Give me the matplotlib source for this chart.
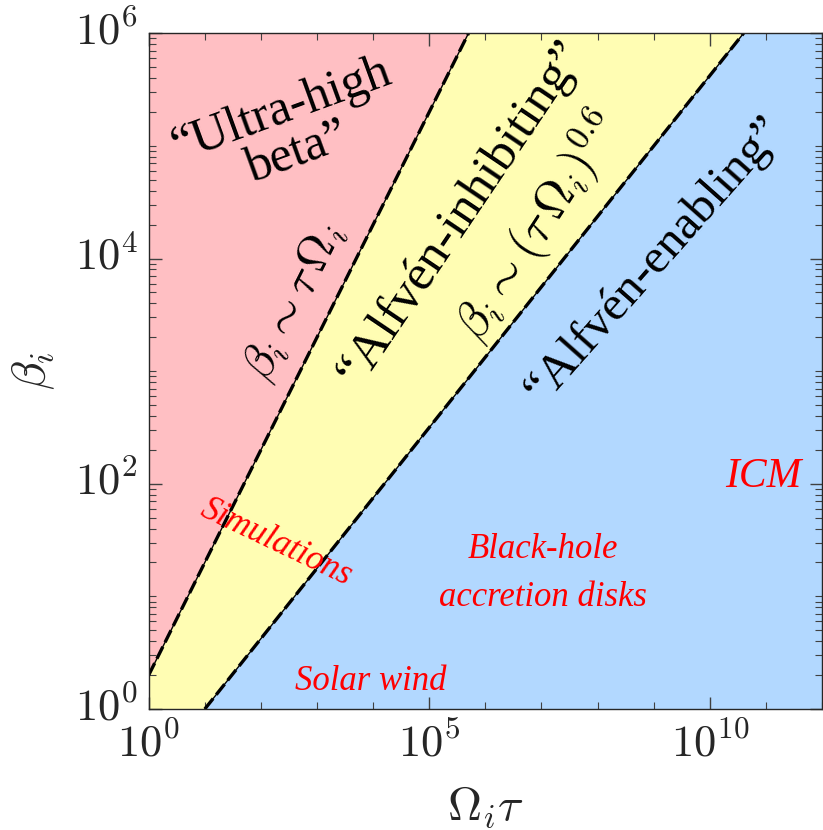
import numpy as np
import matplotlib
matplotlib.use("Agg")
import matplotlib.pyplot as plt
from matplotlib.ticker import LogLocator, NullFormatter, FixedLocator
from matplotlib.transforms import ScaledTranslation

plt.rcParams['mathtext.fontset'] = 'cm'
plt.rcParams['axes.formatter.use_mathtext'] = True
plt.rcParams['font.family'] = 'serif'
plt.rcParams['font.serif'] = ['cmr10', 'DejaVu Serif']
plt.rcParams['axes.unicode_minus'] = False

# ---------- data ----------
X_LIM = (1e0, 1e12)
Y_LIM = (1e0, 1e6)
# beta_i ~ tau*Omega_i boundary (ultra-high beta / Alfven-inhibiting)
ultra_x = [1e0, 5e5]
ultra_beta = [2e0, 1e6]
# beta_i ~ (tau*Omega_i)^0.6 boundary (Alfven-inhibiting / Alfven-enabling)
enab_x = [1e1, 4e10]
enab_beta = [1e0, 1e6]

x_major = [1e0, 1e5, 1e10]
y_major = [1e0, 1e2, 1e4, 1e6]

# region colours
C_RED = '#ffbfc3'
C_YEL = '#fffdb3'
C_BLU = '#b2d8ff'
# --------------------------

fig = plt.figure(figsize=(8.23, 8.30), dpi=100)
ax = fig.add_axes([0.1807, 0.1458, 0.8181, 0.8141])
ax.set_xscale('log')
ax.set_yscale('log')
ax.set_xlim(*X_LIM)
ax.set_ylim(*Y_LIM)

# filled regions
ax.fill([X_LIM[0]] + ultra_x + [X_LIM[0]],
        [ultra_beta[0]] + ultra_beta + [Y_LIM[1]], color=C_RED, lw=0, zorder=0)
ax.fill([X_LIM[0], X_LIM[0]] + ultra_x + enab_x[::-1],
        [Y_LIM[0], ultra_beta[0]] + ultra_beta + enab_beta[::-1], color=C_YEL, lw=0, zorder=0)
ax.fill(enab_x + [X_LIM[1], X_LIM[1]],
        enab_beta + [Y_LIM[1], Y_LIM[0]], color=C_BLU, lw=0, zorder=0)

# boundary lines
for bx, by in [(ultra_x, ultra_beta), (enab_x, enab_beta)]:
    ax.plot(bx, by, color='black', lw=1.0, zorder=2)
    ax.plot(bx, by, color='black', lw=2.4, ls=(0, (4, 1.5)), zorder=2)

# ticks
ax.xaxis.set_major_locator(FixedLocator(x_major))
ax.xaxis.set_minor_locator(FixedLocator([10.0 ** k for k in range(0, 13)]))
ax.xaxis.set_minor_formatter(NullFormatter())
ax.yaxis.set_major_locator(FixedLocator(y_major))
ax.yaxis.set_minor_locator(LogLocator(base=10, subs=np.arange(1, 10), numticks=50))
ax.yaxis.set_minor_formatter(NullFormatter())
ax.tick_params(which='both', direction='in', top=True, right=True, color='#404040',
               labelsize=32, labelcolor='#262626')
ax.tick_params(which='major', length=9, width=1.0)
ax.tick_params(axis='x', which='major', pad=10)
ax.tick_params(axis='y', which='major', pad=8)
ax.tick_params(which='minor', length=5, width=0.8)
for sp in ax.spines.values():
    sp.set_color('#262626')
    sp.set_linewidth(1.0)

# nudge y tick labels upward a little
shift_up = ScaledTranslation(0, 6 / 100, fig.dpi_scale_trans)
for lab in ax.get_yticklabels():
    lab.set_transform(lab.get_transform() + shift_up)

ax.set_xlabel(r'$\Omega_i\tau$', fontsize=34, color='#262626')
ax.set_ylabel(r'$\beta_i$', fontsize=34, color='#262626')
ax.xaxis.set_label_coords(0.5, -0.112)
ax.yaxis.set_label_coords(-0.136, 0.5)

# region labels
txt_font = ['Liberation Serif', 'DejaVu Serif']
ax.text(0.21, 0.855, '\u201cUltra-high\nbeta\u201d', transform=ax.transAxes,
        rotation=20, rotation_mode='anchor', ha='center', va='center',
        fontsize=36, family=txt_font, linespacing=1.0)
ax.text(0.215, 0.603, r'$\beta_i\sim\tau\,\Omega_i$', transform=ax.transAxes,
        rotation=63.4, rotation_mode='anchor', ha='center', va='center', fontsize=34)
ax.text(0.464, 0.734, '\u201cAlfv\u00e9n-inhibiting\u201d', transform=ax.transAxes,
        rotation=56, rotation_mode='anchor', ha='center', va='center',
        fontsize=37, family=txt_font)
ax.text(0.578, 0.715, r'$\beta_i\sim(\tau\,\Omega_i)^{0.6}$', transform=ax.transAxes,
        rotation=57, rotation_mode='anchor', ha='center', va='center', fontsize=35)
ax.text(0.751, 0.664, '\u201cAlfv\u00e9n-enabling\u201d', transform=ax.transAxes,
        rotation=48.5, rotation_mode='anchor', ha='center', va='center',
        fontsize=35.5, family=txt_font)

# red annotations
red_font = dict(color='red', style='italic', family=txt_font, ha='center', va='center',
                transform=ax.transAxes)
ax.text(0.19, 0.246, 'Simulations', rotation=-25.5, rotation_mode='anchor', fontsize=25, **red_font)
ax.text(0.585, 0.201, 'Black-hole\naccretion disks', fontsize=25, linespacing=1.6, **red_font)
ax.text(0.33, 0.04, 'Solar wind', fontsize=25, **red_font)
ax.text(0.913, 0.343, 'ICM', fontsize=30, **red_font)

fig.savefig('out.png', dpi=100)
